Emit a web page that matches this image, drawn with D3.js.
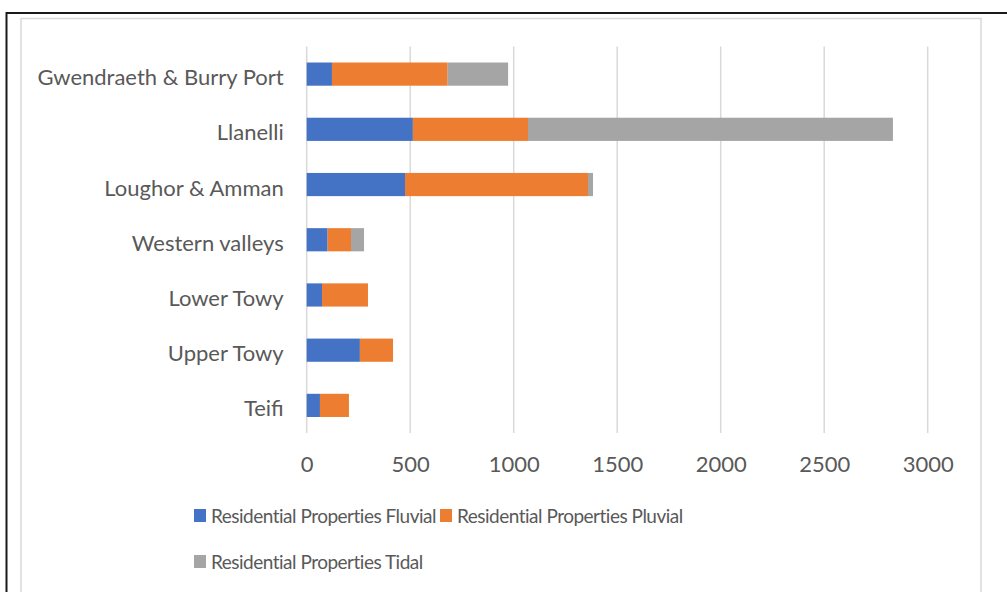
<!DOCTYPE html>
<html>
<head>
<meta charset="utf-8">
<script src="https://cdn.jsdelivr.net/npm/d3@7"></script>
<style>
  body { margin: 0; background: #fff; }
  svg text { font-family: Lato, "Open Sans", sans-serif; fill: #595959; }
</style>
</head>
<body>
<svg id="chart"></svg>
<script>
// data
let categories = ['Gwendraeth & Burry Port', 'Llanelli', 'Loughor & Amman',
  'Western valleys', 'Lower Towy', 'Upper Towy', 'Teifi'];
let fluvial = [122, 513, 475, 101, 74, 257, 64];
let pluvial = [559, 556, 884, 113, 222, 160, 140];
let tidal = [292, 1763, 24, 63, 0, 0, 0];
let seriesNames = ['Residential Properties Fluvial', 'Residential Properties Pluvial',
  'Residential Properties Tidal'];
let seriesColors = ['#4472C4', '#ED7D31', '#A5A5A5'];
let xTicks = [0, 500, 1000, 1500, 2000, 2500, 3000];

let config = { svg: {}, plot: {} };
config.svg.width = 1007;
config.svg.height = 592;
config.plot.x = 306.7;
config.plot.y = 46.5;
config.plot.width = 927.7 - config.plot.x;
config.plot.height = 433 - config.plot.y;

let svg = d3.select('svg#chart')
  .attr('width', config.svg.width)
  .attr('height', config.svg.height);

// frame lines around the chart
svg.append('line').attr('x1', 6.5).attr('x2', 1007).attr('y1', 13).attr('y2', 13)
  .attr('stroke', '#1a1a1a').attr('stroke-width', 2);
svg.append('line').attr('x1', 6.5).attr('x2', 6.5).attr('y1', 12).attr('y2', 592)
  .attr('stroke', '#1a1a1a').attr('stroke-width', 2);
svg.append('path').attr('d', 'M21,592V18.5H981V592')
  .attr('fill', 'none').attr('stroke', '#d9d9d9').attr('stroke-width', 1.5);

let scale = {};
scale.x = d3.scaleLinear().domain([0, 3000]).range([0, config.plot.width]);
scale.y = d3.scaleBand().domain(categories)
  .range([0, config.plot.height]).paddingInner(0.58).paddingOuter(0.29);

let plot = svg.append('g')
  .attr('transform', translate(config.plot.x, config.plot.y));

// gridlines
plot.append('g').selectAll('line')
  .data(xTicks)
  .join('line')
  .attr('x1', d => scale.x(d)).attr('x2', d => scale.x(d))
  .attr('y1', 0).attr('y2', config.plot.height)
  .attr('stroke', '#d9d9d9').attr('stroke-width', 1.5);

// stacked bars
let rows = categories.map((c, i) => ({
  cat: c, fluvial: fluvial[i], pluvial: pluvial[i], tidal: tidal[i]
}));
let stack = d3.stack().keys(['fluvial', 'pluvial', 'tidal'])(rows);

plot.append('g').selectAll('g')
  .data(stack)
  .join('g')
  .attr('fill', (d, i) => seriesColors[i])
  .selectAll('rect')
  .data(d => d)
  .join('rect')
  .attr('x', d => scale.x(d[0]))
  .attr('y', d => scale.y(d.data.cat))
  .attr('width', d => scale.x(d[1]) - scale.x(d[0]))
  .attr('height', scale.y.bandwidth());

// x axis labels
let axis = {};
axis.x = d3.axisBottom(scale.x).tickValues(xTicks).tickSize(0).tickPadding(23)
  .tickFormat(d3.format('d'));
let gx = plot.append('g')
  .attr('transform', translate(0, config.plot.height))
  .call(axis.x);
gx.select('.domain').remove();
gx.selectAll('text').style('font-size', '22px').attr('fill', '#595959');

// y axis labels
axis.y = d3.axisLeft(scale.y).tickSize(0).tickPadding(23);
let gy = plot.append('g').call(axis.y);
gy.select('.domain').remove();
gy.selectAll('text').style('font-size', '22px').attr('fill', '#595959')
  .attr('dy', '0.5em');

// legend
let legendPos = [[194, 509], [440, 509], [194, 555]];
let legend = svg.append('g').selectAll('g')
  .data(seriesNames)
  .join('g')
  .attr('transform', (d, i) => translate(legendPos[i][0], legendPos[i][1]));
legend.append('rect')
  .attr('width', 12).attr('height', 13)
  .attr('fill', (d, i) => seriesColors[i]);
legend.append('text')
  .attr('x', 17).attr('y', 7)
  .attr('dy', '0.36em')
  .style('font-size', '19px')
  .style('letter-spacing', '-0.5px')
  .text(d => d);

function translate(x, y) {
  return 'translate(' + x + ',' + y + ')';
}
</script>
</body>
</html>
